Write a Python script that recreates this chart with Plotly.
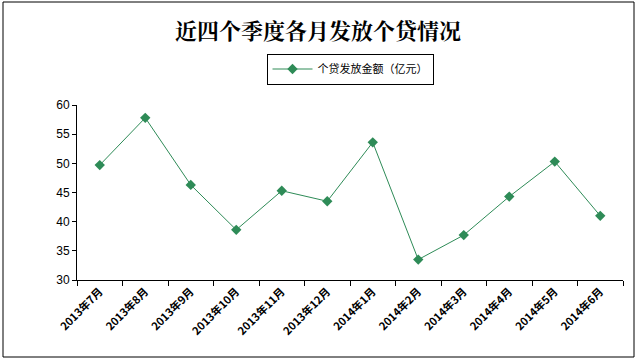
import plotly.graph_objects as go

months = ["2013年7月", "2013年8月", "2013年9月", "2013年10月", "2013年11月", "2013年12月",
          "2014年1月", "2014年2月", "2014年3月", "2014年4月", "2014年5月", "2014年6月"]
loans = [49.7, 57.8, 46.3, 38.6, 45.3, 43.5, 53.6, 33.5, 37.7, 44.3, 50.3, 41.0]
series_name = "个贷发放金额（亿元）"
title_text = "近四个季度各月发放个贷情况"

W, H = 639, 363
L, R, T, B = 77, 16, 105, 83
pw, ph = W - L - R, H - T - B

fig = go.Figure()
fig.add_trace(go.Scatter(
    x=months, y=loans, name=series_name, mode="lines+markers",
    line=dict(color="#2E8B57", width=1),
    marker=dict(symbol="diamond", size=8, color="#2E8B57"),
))

fig.update_layout(
    width=W, height=H,
    margin=dict(l=L, r=R, t=T, b=B, autoexpand=False),
    paper_bgcolor="white", plot_bgcolor="white",
    font=dict(family="Noto Sans CJK SC, Liberation Sans, sans-serif", color="black", size=11),
    title=dict(text="<b>" + title_text + "</b>", x=318 / W, xanchor="center", y=1 - 31 / H, yanchor="middle",
               font=dict(size=22, family="Noto Serif CJK SC, Noto Sans CJK SC, serif", color="black")),
    showlegend=True,
    legend=dict(orientation="h", x=(350 - L) / pw, xanchor="center", y=(280 - 69) / ph,
                yanchor="middle", yref="paper",
                bordercolor="black", borderwidth=1, bgcolor="white",
                font=dict(size=11), itemwidth=40),
    xaxis=dict(type="category", showgrid=False, showline=True, linecolor="black", linewidth=1,
               ticks="outside", ticklen=5, tickcolor="black", tickson="boundaries",
               tickangle=-45, tickfont=dict(size=11, family="Noto Sans CJK SC", weight="bold"),
               range=[-0.5, 11.5], automargin=False, zeroline=False),
    yaxis=dict(range=[30, 60], dtick=5, showgrid=False, showline=True, linecolor="black", linewidth=1,
               ticks="outside", ticklen=4, tickcolor="black", zeroline=False, automargin=False,
               tickfont=dict(size=12, family="Liberation Sans")),
    shapes=[dict(type="rect", xref="paper", yref="paper",
                 x0=(3 - L) / pw, x1=(634 - L) / pw,
                 y0=(280 - 357) / ph, y1=(280 - 2) / ph,
                 line=dict(color="black", width=1), layer="below")],
)

fig.write_html("out.html", config={"displayModeBar": False},
               post_script="document.body.style.margin='0';document.body.style.overflow='hidden';")
